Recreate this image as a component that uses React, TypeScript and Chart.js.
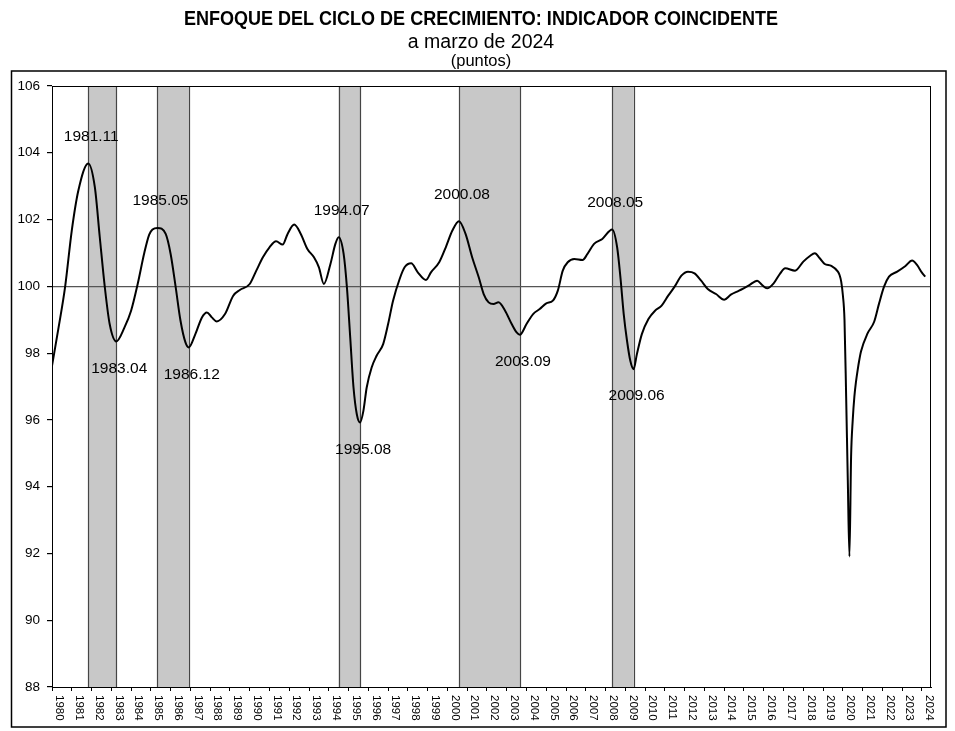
import { useEffect, useRef } from 'react';
import { Chart, registerables } from 'chart.js';

Chart.register(...registerables);

// Monthly readings (YYYY.MM) of the coincident indicator
const dates = [
  '1980.01', '1980.05', '1980.09', '1981.01', '1981.05', '1981.11', '1982.03', '1982.06', '1982.09', '1982.12',
  '1983.04', '1983.09', '1984.01', '1984.05', '1984.09', '1984.12', '1985.02', '1985.05', '1985.10', '1986.01',
  '1986.04', '1986.07', '1986.10', '1986.12', '1987.04', '1987.08', '1987.11', '1988.02', '1988.05', '1988.10',
  '1989.03', '1989.07', '1990.01', '1990.05', '1990.09', '1991.01', '1991.05', '1991.09', '1991.12', '1992.04',
  '1992.08', '1992.12', '1993.04', '1993.07', '1993.10', '1994.02', '1994.05', '1994.07', '1994.10', '1994.12',
  '1995.02', '1995.04', '1995.06', '1995.08', '1995.10', '1995.12', '1996.03', '1996.06', '1996.10', '1997.01',
  '1997.04', '1997.08', '1997.11', '1998.03', '1998.07', '1998.12', '1999.03', '1999.08', '1999.12', '2000.04',
  '2000.08', '2000.12', '2001.04', '2001.08', '2001.11', '2002.02', '2002.05', '2002.08', '2002.12', '2003.04',
  '2003.07', '2003.09', '2004.01', '2004.05', '2004.09', '2005.01', '2005.05', '2005.08', '2005.11', '2006.02',
  '2006.06', '2006.11', '2007.02', '2007.06', '2007.11', '2008.05', '2008.08', '2008.10', '2008.12', '2009.02',
  '2009.04', '2009.06', '2009.08', '2009.11', '2010.03', '2010.07', '2010.11', '2011.03', '2011.07', '2011.11',
  '2012.03', '2012.07', '2012.11', '2013.03', '2013.08', '2014.01', '2014.05', '2014.10', '2015.04', '2015.09',
  '2015.12', '2016.03', '2016.07', '2016.11', '2017.02', '2017.08', '2018.01', '2018.05', '2018.08', '2018.11',
  '2019.02', '2019.06', '2019.10', '2019.11', '2019.12', '2020.01', '2020.02', '2020.03', '2020.04', '2020.05',
  '2020.06', '2020.07', '2020.08', '2020.09', '2020.10', '2020.11', '2020.12', '2021.04', '2021.08', '2021.11',
  '2022.02', '2022.05', '2022.10', '2023.03', '2023.07', '2023.10', '2024.01', '2024.03',
];

const values = [
  97.62, 98.77, 100.0, 101.67, 102.87, 103.68, 102.97, 101.47, 100.0, 98.87,
  98.35, 98.77, 99.27, 100.07, 101.0, 101.55, 101.7, 101.75, 101.57, 100.97,
  100.0, 98.97, 98.32, 98.17, 98.57, 99.07, 99.22, 99.07, 98.95, 99.17,
  99.72, 99.89, 100.07, 100.47, 100.87, 101.17, 101.35, 101.25, 101.57, 101.85,
  101.57, 101.12, 100.87, 100.57, 100.07, 100.67, 101.27, 101.47, 100.97, 99.97,
  98.47, 96.97, 96.17, 95.92, 96.27, 96.97, 97.57, 97.92, 98.27, 98.87,
  99.57, 100.22, 100.57, 100.69, 100.42, 100.19, 100.42, 100.72, 101.17, 101.67,
  101.95, 101.57, 100.87, 100.27, 99.77, 99.52, 99.47, 99.52, 99.27, 98.87,
  98.62, 98.55, 98.87, 99.17, 99.32, 99.49, 99.57, 99.87, 100.47, 100.72,
  100.82, 100.79, 100.97, 101.27, 101.42, 101.7, 101.17, 100.27, 99.17, 98.37,
  97.77, 97.52, 97.97, 98.57, 99.02, 99.27, 99.42, 99.72, 100.0, 100.32,
  100.44, 100.39, 100.17, 99.92, 99.77, 99.6, 99.75, 99.87, 100.03, 100.17,
  100.04, 99.94, 100.09, 100.39, 100.54, 100.47, 100.74, 100.91, 100.99, 100.84,
  100.67, 100.61, 100.44, 100.34, 100.14, 99.74, 98.99, 96.7, 94.2, 91.91,
  94.9, 96.0, 96.7, 97.15, 97.5, 97.8, 98.05, 98.59, 98.94, 99.49,
  99.99, 100.29, 100.44, 100.61, 100.77, 100.64, 100.41, 100.29,
];

// Turning points (peaks and troughs) – shaded recession phases go from peak to trough
const peaks = ['1981.11', '1985.05', '1994.07', '2000.08', '2008.05'];
const troughs = ['1983.04', '1986.12', '1995.08', '2003.09', '2009.06'];

const years = [
  1980, 1981, 1982, 1983, 1984, 1985, 1986, 1987, 1988, 1989, 1990, 1991, 1992, 1993, 1994,
  1995, 1996, 1997, 1998, 1999, 2000, 2001, 2002, 2003, 2004, 2005, 2006, 2007, 2008, 2009,
  2010, 2011, 2012, 2013, 2014, 2015, 2016, 2017, 2018, 2019, 2020, 2021, 2022, 2023, 2024,
];

const titleText = 'ENFOQUE DEL CICLO DE CRECIMIENTO: INDICADOR COINCIDENTE';
const subtitleText = 'a marzo de 2024';
const unitText = '(puntos)';

const FONT = "Arial, 'Liberation Sans', sans-serif";

const toIdx = (d: string) => {
  const [y, m] = d.split('.').map(Number);
  return (y - 1980) * 12 + (m - 1);
};

const valueAt = (d: string) => values[dates.indexOf(d)];

const decor = {
  id: 'decor',
  beforeDraw(chart: any) {
    const { ctx, chartArea: a } = chart;
    const x = chart.scales.x;
    ctx.save();
    // outer frame
    ctx.strokeStyle = '#000';
    ctx.lineWidth = 1.5;
    ctx.strokeRect(11.5, 71, 934.5, 656);
    // shaded phases
    peaks.forEach((p, i) => {
      const x1 = x.getPixelForValue(toIdx(p));
      const x2 = x.getPixelForValue(toIdx(troughs[i]));
      ctx.fillStyle = '#c8c8c8';
      ctx.fillRect(x1, a.top, x2 - x1, a.bottom - a.top);
      ctx.strokeStyle = '#454545';
      ctx.lineWidth = 1.2;
      [x1, x2].forEach((xx) => {
        const px = Math.round(xx) + 0.5;
        ctx.beginPath();
        ctx.moveTo(px, a.top);
        ctx.lineTo(px, a.bottom);
        ctx.stroke();
      });
    });
    ctx.restore();
  },
  afterDraw(chart: any) {
    const { ctx, chartArea: a } = chart;
    const x = chart.scales.x;
    const y = chart.scales.y;
    ctx.save();
    // plot frame
    ctx.strokeStyle = '#000';
    ctx.lineWidth = 1;
    ctx.strokeRect(a.left + 0.5, a.top + 0.5, a.right - a.left - 1, a.bottom - a.top);

    // turning-point labels
    ctx.fillStyle = '#000';
    ctx.font = `15.5px ${FONT}`;
    ctx.textAlign = 'center';
    ctx.textBaseline = 'middle';
    peaks.forEach((p) => {
      ctx.fillText(p, x.getPixelForValue(toIdx(p)) + 3, y.getPixelForValue(valueAt(p)) - 27);
    });
    troughs.forEach((t) => {
      ctx.fillText(t, x.getPixelForValue(toIdx(t)) + 3, y.getPixelForValue(valueAt(t)) + 27);
    });

    // year labels (rotated, reading top to bottom)
    ctx.font = `11.5px ${FONT}`;
    ctx.textAlign = 'left';
    ctx.textBaseline = 'middle';
    years.forEach((yr) => {
      const px = x.getPixelForValue((yr - 1980) * 12 + 4.5);
      ctx.save();
      ctx.translate(px, a.bottom + 8);
      ctx.rotate(Math.PI / 2);
      ctx.fillText(String(yr), 0, 0);
      ctx.restore();
    });

    // titles
    const cx = 481;
    ctx.textAlign = 'center';
    ctx.textBaseline = 'alphabetic';
    ctx.font = `bold 19.5px ${FONT}`;
    ctx.fillText(titleText, cx, 24.5, 594);
    ctx.font = `19.5px ${FONT}`;
    ctx.fillText(subtitleText, cx, 48, 148);
    ctx.font = `16.5px ${FONT}`;
    ctx.fillText(unitText, cx, 66, 66);
    ctx.restore();
  },
};

export default function App() {
  const ref = useRef<HTMLCanvasElement | null>(null);
  useEffect(() => {
    if (!ref.current) return;
    const chart = new Chart(ref.current, {
      type: 'line',
      data: {
        datasets: [
          {
            data: dates.map((d, i) => ({ x: toIdx(d), y: values[i] })),
            borderColor: '#000',
            borderWidth: 2,
            pointRadius: 0,
            fill: false,
            cubicInterpolationMode: 'monotone',
          },
        ],
      },
      options: {
        responsive: true,
        maintainAspectRatio: false,
        animation: false,
        events: [],
        layout: { padding: { top: 86, right: 24, left: 0, bottom: 0 } },
        plugins: { legend: { display: false }, title: { display: false }, tooltip: { enabled: false } },
        scales: {
          x: {
            type: 'linear',
            min: 0,
            max: 533.5,
            afterBuildTicks: (s: any) => {
              s.ticks = years.map((yr) => ({ value: (yr - 1980) * 12 }));
            },
            ticks: { display: false },
            grid: { drawOnChartArea: false, drawTicks: true, tickLength: 4, tickColor: '#000' },
            border: { display: true, color: '#000', width: 1 },
            afterFit: (s: any) => {
              s.height = 44;
            },
          },
          y: {
            min: 88,
            max: 106,
            ticks: { stepSize: 2, color: '#000', padding: 7, font: { family: FONT, size: 13.5 } },
            grid: {
              color: (c: any) => (c.tick && c.tick.value === 100 ? '#555' : 'rgba(0,0,0,0)'),
              tickColor: '#000',
              tickLength: 5,
              lineWidth: 1.2,
            },
            border: { display: true, color: '#000', width: 1 },
            afterFit: (s: any) => {
              s.width = 52;
            },
          },
        },
      },
      plugins: [decor],
    });
    return () => chart.destroy();
  }, []);
  return (
    <div style={{ position: 'absolute', left: 0, top: 0, width: 955, height: 731 }}>
      <canvas ref={ref} />
    </div>
  );
}
